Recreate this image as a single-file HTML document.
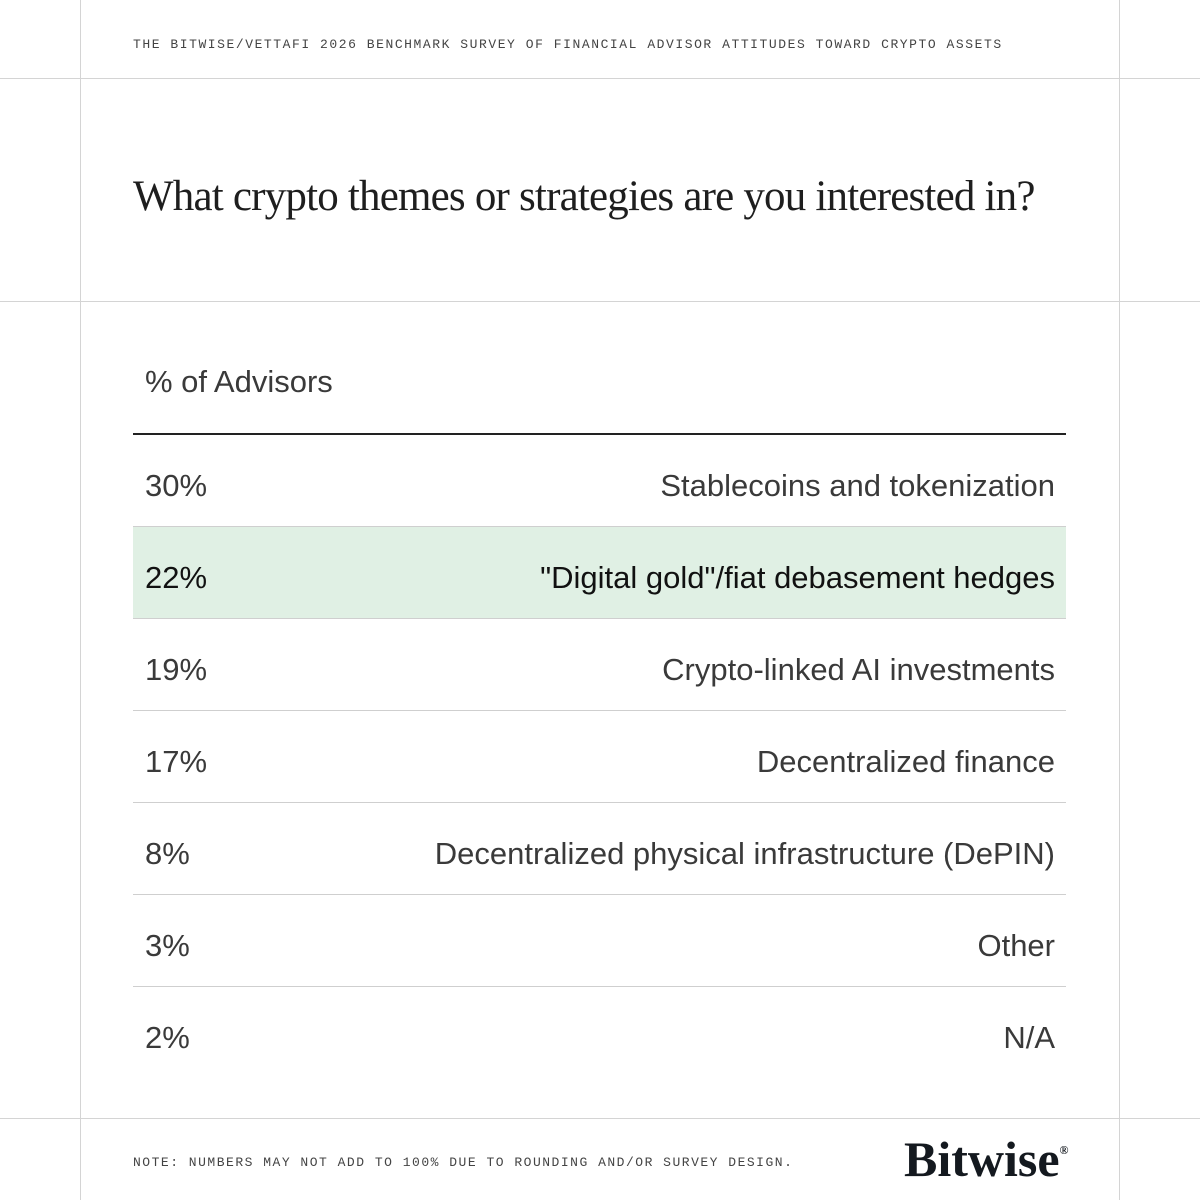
<!DOCTYPE html>
<html><head><meta charset="utf-8"><style>
html,body{margin:0;padding:0;background:#fff}
#c{position:relative;width:1200px;height:1200px;overflow:hidden;background:#fff;font-family:"Liberation Sans",sans-serif}
.vl{position:absolute;top:0;width:1px;height:1200px;background:#d4d4d4}
.hl{position:absolute;left:0;width:1200px;height:1px;background:#d4d4d4}
.mono{position:absolute;font-family:"Liberation Mono",monospace;font-size:13px;color:#444;white-space:nowrap}
.row{position:absolute;left:133px;width:933px;height:91px;border-bottom:1px solid #cfcfcf}
.pct{position:absolute;left:12px;top:5px;line-height:91px;font-size:31px;color:#3a3a3a}
.lab{position:absolute;right:11px;top:5px;line-height:91px;font-size:31px;color:#3a3a3a;white-space:nowrap}
</style></head><body>
<div id="c">
<div class="vl" style="left:80px"></div>
<div class="vl" style="left:1119px"></div>
<div class="hl" style="top:78px"></div>
<div class="hl" style="top:301px"></div>
<div class="hl" style="top:1118px"></div>
<div class="mono" style="left:133px;top:37px;letter-spacing:1.55px">THE BITWISE/VETTAFI 2026 BENCHMARK SURVEY OF FINANCIAL ADVISOR ATTITUDES TOWARD CRYPTO ASSETS</div>
<div style="position:absolute;left:133px;top:172px;font-family:'Liberation Serif',serif;font-size:43px;color:#1e1e1e;letter-spacing:-0.8px;white-space:nowrap">What crypto themes or strategies are you interested in?</div>
<div style="position:absolute;left:145px;top:364px;font-size:31px;color:#3a3a3a">% of Advisors</div>
<div style="position:absolute;left:133px;top:433px;width:933px;height:2px;background:#222"></div>
<div id="rows"></div>
<div class="mono" style="left:133px;top:1155px;letter-spacing:1.5px">NOTE: NUMBERS MAY NOT ADD TO 100% DUE TO ROUNDING AND/OR SURVEY DESIGN.</div>
<div style="position:absolute;left:904px;top:1130px;font-family:'Liberation Serif',serif;font-weight:bold;font-size:50px;color:#14191f;letter-spacing:0">Bitwise<span style="font-size:12px;vertical-align:22px">®</span></div>
</div>
<script>
const categories=["Stablecoins and tokenization","\"Digital gold\"/fiat debasement hedges","Crypto-linked AI investments","Decentralized finance","Decentralized physical infrastructure (DePIN)","Other","N/A"];
const values=[30,22,19,17,8,3,2];
const highlighted=[false,true,false,false,false,false,false];
const root=document.getElementById('rows');
const top0=435,rowH=92;
values.forEach((v,i)=>{
  const r=document.createElement('div');
  r.className='row';
  r.style.top=(top0+i*rowH)+'px';
  if(i===values.length-1)r.style.borderBottom='none';
  if(highlighted[i])r.style.background='#e0f0e4';
  
  
  const p=document.createElement('div');p.className='pct';p.textContent=v+'%';
  if(highlighted[i])p.style.color='#111';
  
  
  const l=document.createElement('div');l.className='lab';l.textContent=categories[i];
  if(highlighted[i])l.style.color='#111';
  
  
  r.appendChild(p);r.appendChild(l);root.appendChild(r);
});
</script>
</body></html>
